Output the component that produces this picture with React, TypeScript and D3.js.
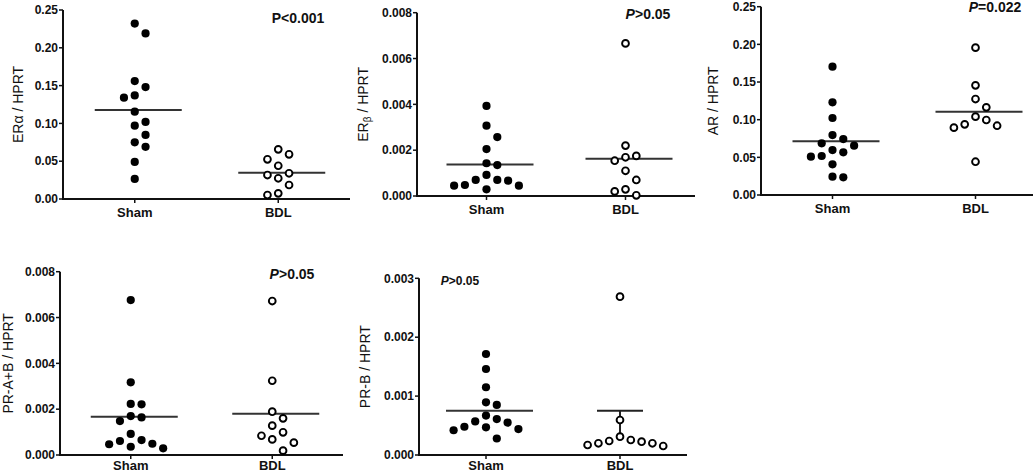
import React from 'react';
import * as d3 from 'd3';

// ---------- DATA ----------
const categories = ['Sham', 'BDL'];

const eraSham = [0.232, 0.219, 0.156, 0.148, 0.137, 0.134, 0.1155, 0.102, 0.097, 0.0847, 0.075, 0.069, 0.049, 0.0265];
const eraBdl = [0.0657, 0.0591, 0.0525, 0.044, 0.034, 0.0317, 0.0274, 0.0185, 0.0075, 0.0053];
const eraLines = [0.1177, 0.0348];
const eraTicks = [0, 0.05, 0.1, 0.15, 0.2, 0.25];

const erbSham = [0.00393, 0.00307, 0.00257, 0.00205, 0.00143, 0.00135, 0.00092, 0.0007, 0.0007, 0.00067, 0.00048, 0.00045, 0.00045, 0.00029];
const erbBdl = [0.00666, 0.0022, 0.00175, 0.00169, 0.00154, 0.0011, 0.0007, 0.00029, 0.0002, 0.00003];
const erbLines = [0.00138, 0.00163];
const erbTicks = [0, 0.002, 0.004, 0.006, 0.008];

const arSham = [0.1704, 0.123, 0.1022, 0.0796, 0.0743, 0.0686, 0.0655, 0.0597, 0.0566, 0.0518, 0.0509, 0.0407, 0.0243, 0.0235];
const arBdl = [0.1956, 0.1456, 0.1274, 0.1164, 0.104, 0.0996, 0.0938, 0.092, 0.0894, 0.0442];
const arLines = [0.0712, 0.1106];
const arTicks = [0, 0.05, 0.1, 0.15, 0.2, 0.25];

const prabSham = [0.00676, 0.00317, 0.00223, 0.00221, 0.0017, 0.00164, 0.00148, 0.00092, 0.00065, 0.00061, 0.00049, 0.00047, 0.00036, 0.00029];
const prabBdl = [0.00672, 0.00324, 0.00189, 0.0016, 0.00128, 0.00099, 0.00084, 0.00068, 0.00054, 0.00019];
const prabLines = [0.00167, 0.0018];
const prabTicks = [0, 0.002, 0.004, 0.006, 0.008];

const prbSham = [0.001715, 0.00146, 0.00115, 0.000895, 0.00085, 0.00067, 0.00061, 0.00057, 0.00055, 0.00048, 0.00047, 0.00044, 0.00042, 0.00028];
const prbBdl = [0.002688, 0.000594, 0.000311, 0.000255, 0.000238, 0.000226, 0.000199, 0.000199, 0.00017, 0.000153];
const prbLines = [0.000752, null];
const prbBdlErr = [0.00027, 0.00075];
const prbTicks = [0, 0.001, 0.002, 0.003];

const pLabels = ['P<0.001', 'P>0.05', 'P=0.022', 'P>0.05', 'P>0.05'];
const yTitles = ['ERα / HPRT', 'ERβ / HPRT', 'AR / HPRT', 'PR-A+B / HPRT', 'PR-B / HPRT'];

// ---------- LAYOUT ----------
const FONT = '"Liberation Sans", Arial, Helvetica, sans-serif';

const panels = [
  { sham: eraSham, bdl: eraBdl, lines: eraLines, err: null, ticks: eraTicks, fmt: '.2f', italicP: false },
  { sham: erbSham, bdl: erbBdl, lines: erbLines, err: null, ticks: erbTicks, fmt: '.3f', italicP: true, sub: true },
  { sham: arSham, bdl: arBdl, lines: arLines, err: null, ticks: arTicks, fmt: '.2f', italicP: true },
  { sham: prabSham, bdl: prabBdl, lines: prabLines, err: null, ticks: prabTicks, fmt: '.3f', italicP: true },
  { sham: prbSham, bdl: prbBdl, lines: prbLines, err: prbBdlErr, ticks: prbTicks, fmt: '.3f', italicP: true },
];

const layouts = [
  { x0: 63, x1: 350, yTop: 10, yBot: 199, titleX: 23, pX: 298, pY: 23, pSize: 14, lab: 18 },
  { x0: 417, x1: 695, yTop: 12.7, yBot: 196, titleX: 368, pX: 648, pY: 19, pSize: 14, lab: 18 },
  { x0: 761, x1: 1047, yTop: 6.7, yBot: 195, titleX: 718, pX: 995, pY: 12, pSize: 14, lab: 18 },
  { x0: 60, x1: 343, yTop: 271.7, yBot: 455, titleX: 13, pX: 292, pY: 279, pSize: 14, lab: 15 },
  { x0: 419, x1: 687, yTop: 278.3, yBot: 455, titleX: 370, pX: 460, pY: 285, pSize: 12, lab: 15 },
];

function beeswarm(values: number[], y: (v: number) => number, cx: number, slot: number, minDist: number) {
  const order = values.map((v, i) => i).sort((a, b) => values[b] - values[a]);
  const placed: { k: number; py: number }[] = [];
  const out: { x: number; y: number }[] = new Array(values.length);
  for (const i of order) {
    const py = y(values[i]);
    const cands = [0];
    for (let k = 1; k < 10; k++) cands.push(k, -k);
    let chosen = 0;
    for (const k of cands) {
      if (!placed.some((p) => p.k === k && Math.abs(p.py - py) < minDist)) {
        chosen = k;
        break;
      }
    }
    placed.push({ k: chosen, py });
    out[i] = { x: cx + chosen * slot, y: py };
  }
  return out;
}

function Panel({ idx }: { idx: number }) {
  const d = panels[idx];
  const L = layouts[idx];
  const x = d3.scalePoint<string>().domain(categories).range([L.x0, L.x1]).padding(0.5);
  const y = d3.scaleLinear().domain([0, d.ticks[d.ticks.length - 1]]).range([L.yBot, L.yTop]);
  const fmt = d3.format(d.fmt);
  const groups = [d.sham, d.bdl];
  const midY = (L.yTop + L.yBot) / 2;
  const pText = pLabels[idx];

  return (
    <g>
      <line x1={L.x0} x2={L.x0} y1={L.yTop} y2={L.yBot} stroke="#111" strokeWidth={2} />
      <line x1={L.x0 - 1} x2={L.x1} y1={L.yBot} y2={L.yBot} stroke="#111" strokeWidth={2} />
      {d.ticks.map((t) => (
        <g key={t}>
          <line x1={L.x0 - 4} x2={L.x0} y1={y(t)} y2={y(t)} stroke="#111" strokeWidth={1.5} />
          <text x={L.x0 - 5} y={y(t)} dy="0.35em" textAnchor="end" fontSize={12} fontWeight="bold" fontFamily={FONT} fill="#111">
            {fmt(t)}
          </text>
        </g>
      ))}
      {categories.map((c) => (
        <g key={c}>
          <line x1={x(c)} x2={x(c)} y1={L.yBot} y2={L.yBot + 4} stroke="#111" strokeWidth={1.5} />
          <text x={x(c)} y={L.yBot + L.lab} textAnchor="middle" fontSize={13} fontWeight="bold" fontFamily={FONT} fill="#111">
            {c}
          </text>
        </g>
      ))}
      <text
        transform={`translate(${L.titleX},${midY}) rotate(-90)`}
        textAnchor="middle"
        fontSize={14}
        fontFamily={FONT}
        fill="#111"
      >
        {d.sub ? (
          <>
            ER<tspan fontSize={10} dy={3}>β</tspan>
            <tspan dy={-3}> / HPRT</tspan>
          </>
        ) : (
          yTitles[idx]
        )}
      </text>
      <text x={L.pX} y={L.pY} textAnchor="middle" fontSize={L.pSize} fontWeight="bold" fontFamily={FONT} fill="#111">
        {d.italicP ? (
          <>
            <tspan fontStyle="italic">P</tspan>
            {pText.slice(1)}
          </>
        ) : (
          pText
        )}
      </text>
      {d.lines.map((m, gi) =>
        m == null ? null : (
          <line
            key={'m' + gi}
            x1={(x(categories[gi]) as number) - 40}
            x2={(x(categories[gi]) as number) + 47}
            y1={y(m)}
            y2={y(m)}
            stroke="#333"
            strokeWidth={2}
          />
        )
      )}
      {d.err && (
        <g>
          <line
            x1={(x('BDL') as number) - 23}
            x2={(x('BDL') as number) + 23}
            y1={y(d.err[1])}
            y2={y(d.err[1])}
            stroke="#222"
            strokeWidth={2}
          />
          <line x1={x('BDL')} x2={x('BDL')} y1={y(d.err[1])} y2={y(d.err[0])} stroke="#222" strokeWidth={2} />
        </g>
      )}
      {groups.map((vals, gi) => {
        const pts = beeswarm(vals, y, x(categories[gi]) as number, 10.8, 11.5);
        return pts.map((p, i) =>
          gi === 0 ? (
            <circle key={gi + '-' + i} cx={p.x} cy={p.y} r={4.1} fill="#000" />
          ) : (
            <circle key={gi + '-' + i} cx={p.x} cy={p.y} r={3.4} fill="#fff" stroke="#000" strokeWidth={1.9} />
          )
        );
      })}
    </g>
  );
}

export default function App() {
  return (
    <svg
      width={1033}
      height={474}
      viewBox="0 0 1033 474"
      style={{ position: 'absolute', left: 0, top: 0, background: '#fff' }}
    >
      <rect x={0} y={0} width={1033} height={474} fill="#fff" />
      {panels.map((_, i) => (
        <Panel key={i} idx={i} />
      ))}
    </svg>
  );
}
